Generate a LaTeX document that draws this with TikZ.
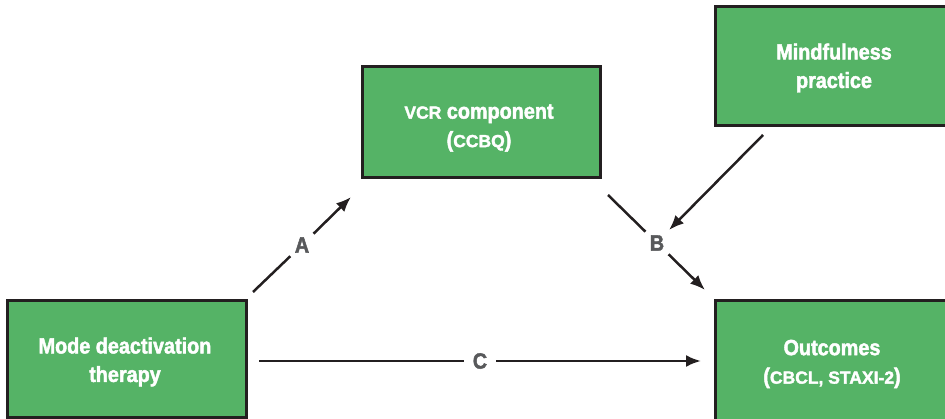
\documentclass[tikz,border=0pt]{standalone}
\usepackage{fontspec}
\usetikzlibrary{arrows.meta}
\newfontfamily\boxfont[FakeStretch=0.9,FakeBold=2]{Liberation Sans}
\newfontfamily\capsfont[FakeBold=2]{Liberation Sans}
\newcommand{\smc}[1]{{\capsfont\bfseries\fontsize{17.5}{17.5}\selectfont #1}}
\definecolor{boxgreen}{HTML}{55B366}
\definecolor{edgedark}{HTML}{231F20}
\definecolor{labelgray}{HTML}{58595B}
\tikzset{
  varbox/.style={draw=edgedark, line width=3pt, fill=boxgreen, inner sep=0pt},
  boxtext/.style={text=white, align=center, font=\boxfont\bfseries\fontsize{22}{28.5}\selectfont},
  pathlabel/.style={circle, minimum size=32pt, inner sep=0pt, text=labelgray,
    font=\boxfont\bfseries\fontsize{22}{22}\selectfont},
  link/.style={draw=edgedark, line width=2.5pt},
  linkarrow/.style={link, -{Latex[length=15pt,width=12pt]}}
}
\begin{document}
\begin{tikzpicture}[x=1pt,y=-1pt]
\useasboundingbox (0,0) rectangle (945,419);
\clip (0,0) rectangle (945,419);

% variable boxes
\node[varbox, minimum width=239pt, minimum height=116pt] (mdt) at (126.5,359) {};
\node[varbox, minimum width=238pt, minimum height=111pt] (vcr) at (481,122.5) {};
\node[varbox, minimum width=236pt, minimum height=119pt] (mind) at (833,66.5) {};
\node[varbox, minimum width=236pt, minimum height=130pt] (out) at (833,366) {};

% box captions
\node[boxtext] (mdtT) at (125,362) {Mode deactivation\\therapy};
\node[boxtext] (vcrT) at (479,128) {\smc{VCR} component\\(\smc{CCBQ})};
\node[boxtext] (mindT) at (834,68) {Mindfulness\\practice};
\node[boxtext] (outT) at (832,364) {Outcomes\\(\smc{CBCL, STAXI-2})};

% path labels
\node[pathlabel] (A) at (302,245) {A};
\node[pathlabel] (B) at (657,243) {B};
\node[pathlabel] (C) at (480,361) {C};

% connector end points
\coordinate (a1) at (253,292);
\coordinate (a2) at (351,197);
\coordinate (b1) at (608,195);
\coordinate (b2) at (705,290);
\coordinate (c1) at (259,361);
\coordinate (c2) at (701,361);
\coordinate (m1) at (763,135);
\coordinate (m2) at (669,230);

% path A
\draw[link] (a1) -- (A);
\draw[linkarrow] (A) -- (a2);
% path B
\draw[link] (b1) -- (B);
\draw[linkarrow] (B) -- (b2);
% path C
\draw[link] (c1) -- (C);
\draw[linkarrow] (C) -- (c2);
% moderator
\draw[linkarrow] (m1) -- (m2);
\end{tikzpicture}
\end{document}
